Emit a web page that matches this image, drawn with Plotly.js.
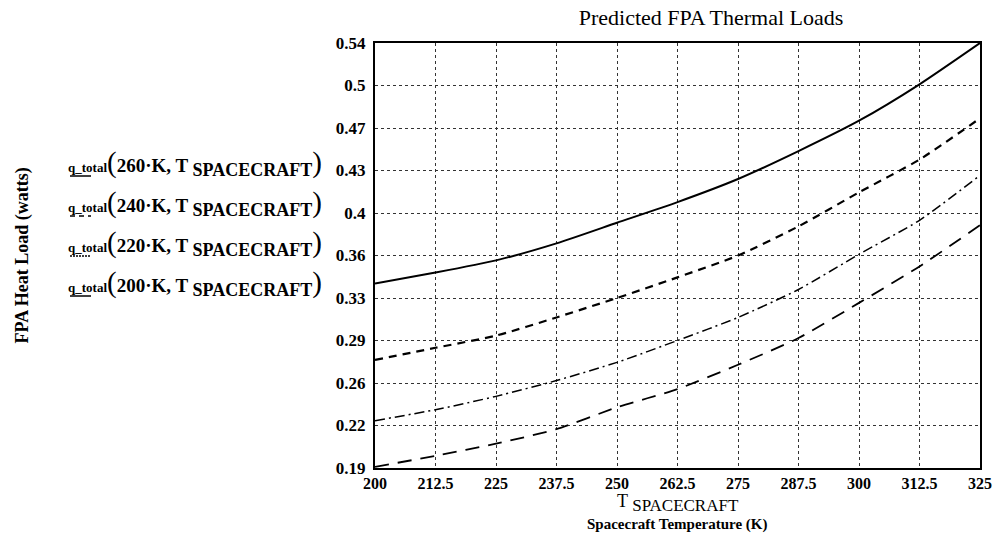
<!DOCTYPE html>
<html>
<head>
<meta charset="utf-8">
<script src="https://cdn.plot.ly/plotly-3.0.1.min.js"></script>
<style>html,body{margin:0;padding:0;background:#fff;}#chart{width:1000px;height:559px;}</style>
</head>
<body>
<div id="chart"></div>
<script>
// ---- data ----
var tSpacecraft = [200, 212.5, 225, 237.5, 250, 262.5, 275, 287.5, 300, 312.5, 325];
var q260 = [0.342, 0.351, 0.361, 0.375, 0.392, 0.409, 0.428, 0.451, 0.476, 0.506, 0.540];
var q240 = [0.279, 0.289, 0.299, 0.314, 0.330, 0.347, 0.365, 0.389, 0.417, 0.444, 0.478];
var q220 = [0.229, 0.238, 0.249, 0.262, 0.277, 0.295, 0.314, 0.337, 0.366, 0.394, 0.431];
var q200 = [0.191, 0.200, 0.210, 0.222, 0.240, 0.255, 0.275, 0.297, 0.326, 0.356, 0.390];
var seriesLabels = ["260", "240", "220", "200"];
var xTickVals = [200, 212.5, 225, 237.5, 250, 262.5, 275, 287.5, 300, 312.5, 325];
var xTickText = ["200", "212.5", "225", "237.5", "250", "262.5", "275", "287.5", "300", "312.5", "325"];
var yTickVals = [0.19, 0.225, 0.26, 0.295, 0.33, 0.365, 0.40, 0.435, 0.47, 0.505, 0.54];
var yTickText = ["0.19", "0.22", "0.26", "0.29", "0.33", "0.36", "0.4", "0.43", "0.47", "0.5", "0.54"];

var serif = "Liberation Serif, Times New Roman, DejaVu Serif, serif";
var dashes = ["solid", "8px,6px", "10px,4px,2px,4px", "14px,9px"];
var widths = [2, 2.2, 1.5, 1.8];
var ys = [q260, q240, q220, q200];

var traces = ys.map(function (y, i) {
  return {
    x: tSpacecraft, y: y, type: "scatter", mode: "lines",
    line: {color: "#000", width: widths[i], dash: dashes[i], shape: "spline", smoothing: 0.6},
    showlegend: false, hoverinfo: "skip"
  };
});

// plot area geometry in pixels
var L = 375, R = 20, T = 43, B = 91, W = 1000 - L - R, H = 559 - T - B;
function px(x) { return (x - L) / W; }
function py(y) { return 1 - (y - T) / H; }

var annotations = [];
var shapes = [];
var rowY = [163, 203, 243, 283];
seriesLabels.forEach(function (lab, i) {
  annotations.push({
    xref: "paper", yref: "paper", x: px(66), y: py(rowY[i]), xanchor: "left", yanchor: "middle",
    showarrow: false,
    text: "<b><span style='font-size:13px'>q_total</span></b><span style='font-size:29px'>(</span><b>" + lab +
      "·K, T </b><sub><b><span style='font-size:18px'>SPACECRAFT</span></b></sub><span style='font-size:29px'>)</span>",
    font: {family: serif, size: 19, color: "#000"}
  });
  shapes.push({
    type: "line", xref: "paper", yref: "paper",
    x0: px(70), x1: px(91), y0: py(rowY[i] + 13), y1: py(rowY[i] + 13),
    line: {color: "#000", width: 1.5, dash: i === 0 ? "solid" : (i === 1 ? "5px,4px" : (i === 2 ? "2px,1px" : "solid"))}
  });
});
// y axis title
annotations.push({
  xref: "paper", yref: "paper", x: px(22), y: 0.5, xanchor: "center", yanchor: "middle",
  textangle: -90, showarrow: false, text: "<b>FPA Heat Load (watts)</b>",
  font: {family: serif, size: 18, color: "#000"}
});
// x axis title
annotations.push({
  xref: "paper", yref: "paper", x: 0.5, y: py(489), xanchor: "center", yanchor: "top",
  showarrow: false, text: "T <sub><span style='font-size:17px'>SPACECRAFT</span></sub>",
  font: {family: serif, size: 18, color: "#000"}
});
annotations.push({
  xref: "paper", yref: "paper", x: 0.5, y: py(524), xanchor: "center", yanchor: "middle",
  showarrow: false, text: "<b>Spacecraft Temperature (K)</b>",
  font: {family: serif, size: 15, color: "#000"}
});

var layout = {
  width: 1000, height: 559,
  margin: {l: L, r: R, t: T, b: B, pad: 0},
  paper_bgcolor: "#fff", plot_bgcolor: "#fff",
  font: {family: serif, color: "#000"},
  title: {text: "Predicted FPA Thermal Loads", font: {family: serif, size: 22, color: "#000"},
          xref: "paper", x: px(711), xanchor: "center", y: 1 - 17 / 559, yanchor: "middle"},
  xaxis: {
    range: [200, 325], tickvals: xTickVals, ticktext: xTickText,
    showline: true, linecolor: "#000", linewidth: 2, mirror: true,
    showgrid: true, gridcolor: "#333", griddash: "dot", gridwidth: 1,
    zeroline: false, ticks: "", ticklen: 0,
    tickfont: {family: serif, size: 16, color: "#000", weight: "bold"}
  },
  yaxis: {
    range: [0.19, 0.54], tickvals: yTickVals, ticktext: yTickText,
    showline: true, linecolor: "#000", linewidth: 2, mirror: true,
    showgrid: true, gridcolor: "#333", griddash: "dot", gridwidth: 1,
    zeroline: false, ticks: "", ticklen: 0, ticklabelstandoff: 4,
    tickfont: {family: serif, size: 17, color: "#000", weight: "bold"}
  },
  annotations: annotations,
  shapes: shapes,
  showlegend: false
};

Plotly.newPlot("chart", traces, layout, {displayModeBar: false, staticPlot: true});
</script>
</body>
</html>
